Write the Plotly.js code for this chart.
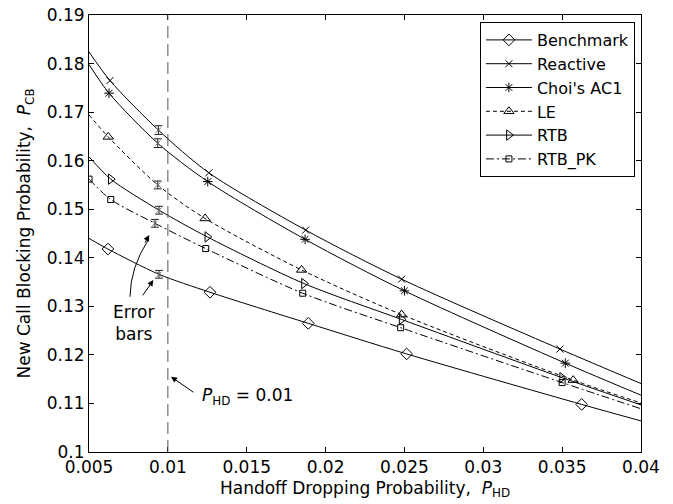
<!DOCTYPE html>
<html>
<head>
<meta charset="utf-8">
<script src="https://cdn.plot.ly/plotly-3.0.1.min.js"></script>
<style>html,body{margin:0;padding:0;background:#fff;}#chart{width:673px;height:504px;}</style>
</head>
<body>
<div id="chart"></div>
<script>
// ---------- data ----------
var seriesNames = ["Benchmark", "Reactive", "Choi's AC1", "LE", "RTB", "RTB_PK"];

// smooth curves (x = P_HD, y = P_CB)
var benchCurveX = [0.005, 0.0062, 0.00944, 0.01267, 0.0189, 0.02514, 0.03624, 0.04];
var benchCurveY = [0.1440, 0.1418, 0.1366, 0.1329, 0.1265, 0.1202, 0.1098, 0.1064];
var reactCurveX = [0.005, 0.00633, 0.0094, 0.0126, 0.01874, 0.02482, 0.03486, 0.04];
var reactCurveY = [0.1824, 0.1765, 0.1663, 0.1575, 0.1457, 0.1356, 0.1212, 0.1141];
var choiCurveX = [0.005, 0.00627, 0.00936, 0.01253, 0.0187, 0.025, 0.0352, 0.04];
var choiCurveY = [0.1798, 0.1739, 0.1636, 0.1557, 0.1438, 0.1332, 0.1183, 0.1117];
var leCurveX = [0.005, 0.00622, 0.00936, 0.01236, 0.01848, 0.02482, 0.0357, 0.04];
var leCurveY = [0.1694, 0.1649, 0.1550, 0.1481, 0.1375, 0.1283, 0.1148, 0.1101];
var rtbCurveX = [0.005, 0.00638, 0.00944, 0.0125, 0.01863, 0.02482, 0.035, 0.04];
var rtbCurveY = [0.1608, 0.1562, 0.1498, 0.1443, 0.1347, 0.1273, 0.1153, 0.1097];
var pkCurveX = [0.005, 0.00638, 0.00918, 0.0124, 0.01855, 0.02476, 0.035, 0.04];
var pkCurveY = [0.1562, 0.1520, 0.1471, 0.1419, 0.1327, 0.1256, 0.1143, 0.1089];

// marker positions
var benchMarkX = [0.0062, 0.01267, 0.0189, 0.02514, 0.03624];
var benchMarkY = [0.1418, 0.1329, 0.1265, 0.1202, 0.1098];
var reactMarkX = [0.00633, 0.0126, 0.01874, 0.02482, 0.03486];
var reactMarkY = [0.1765, 0.1575, 0.1457, 0.1356, 0.1212];
var choiMarkX = [0.00627, 0.01253, 0.0187, 0.025, 0.0352];
var choiMarkY = [0.1739, 0.1557, 0.1438, 0.1332, 0.1183];
var leMarkX = [0.00622, 0.01236, 0.01848, 0.02482, 0.0357];
var leMarkY = [0.1649, 0.1481, 0.1375, 0.1283, 0.1148];
var rtbMarkX = [0.00638, 0.0125, 0.01863, 0.02482, 0.035];
var rtbMarkY = [0.1562, 0.1443, 0.1347, 0.1273, 0.1153];
var pkMarkX = [0.005, 0.00638, 0.0124, 0.01855, 0.02476, 0.035];
var pkMarkY = [0.1562, 0.1520, 0.1419, 0.1327, 0.1256, 0.1143];

// error bars near P_HD = 0.01
var errX = [0.00944, 0.0094, 0.00936, 0.00936, 0.00944, 0.00918];
var errY = [0.1366, 0.1663, 0.1636, 0.1550, 0.1498, 0.1471];
var errSize = [0.0008, 0.0009, 0.0009, 0.0008, 0.0008, 0.0008];

// ticks
var xTickVals = [0.005, 0.01, 0.015, 0.02, 0.025, 0.03, 0.035, 0.04];
var xTickText = ["0.005", "0.01", "0.015", "0.02", "0.025", "0.03", "0.035", "0.04"];
var yTickVals = [0.1, 0.11, 0.12, 0.13, 0.14, 0.15, 0.16, 0.17, 0.18, 0.19];
var yTickText = ["0.1", "0.11", "0.12", "0.13", "0.14", "0.15", "0.16", "0.17", "0.18", "0.19"];

// ---------- styles ----------
var FONT = "DejaVu Sans, Liberation Sans, Arial, sans-serif";
var curves = [[benchCurveX, benchCurveY], [reactCurveX, reactCurveY], [choiCurveX, choiCurveY],
              [leCurveX, leCurveY], [rtbCurveX, rtbCurveY], [pkCurveX, pkCurveY]];
var marks = [[benchMarkX, benchMarkY], [reactMarkX, reactMarkY], [choiMarkX, choiMarkY],
             [leMarkX, leMarkY], [rtbMarkX, rtbMarkY], [pkMarkX, pkMarkY]];
var dashes = ["solid", "solid", "solid", "4px,3px", "solid", "8px,3px,2px,3px"];
var symbols = ["diamond-open", "x-thin-open", "asterisk-open", "triangle-up-open", "triangle-right-open", "square-open"];
var sizes = [9, 7, 8, 9, 9, 6];

var traces = [];
for (var i = 0; i < seriesNames.length; i++) {
  traces.push({
    x: curves[i][0], y: curves[i][1], type: "scatter", mode: "lines",
    line: {color: "black", width: 1, dash: dashes[i], shape: "spline", smoothing: 0.8},
    showlegend: false, hoverinfo: "skip", legendgroup: "g" + i
  });
  traces.push({
    x: marks[i][0], y: marks[i][1], type: "scatter", mode: "markers",
    marker: {symbol: symbols[i], size: sizes[i], color: "black", line: {width: 1, color: "black"}},
    showlegend: false, legendgroup: "g" + i
  });
}
// legend entries
for (var j = 0; j < seriesNames.length; j++) {
  traces.push({
    x: [null], y: [null], type: "scatter", mode: "lines+markers", name: seriesNames[j],
    line: {color: "black", width: 1, dash: dashes[j]},
    marker: {symbol: symbols[j], size: sizes[j], color: "black", line: {width: 1, color: "black"}},
    legendgroup: "g" + j
  });
}
// error bars
traces.push({
  x: errX, y: errY, type: "scatter", mode: "markers", showlegend: false,
  marker: {symbol: "x-thin-open", size: 5, color: "#666", line: {width: 1, color: "#666"}},
  error_y: {type: "data", array: errSize, visible: true, color: "#222", thickness: 1, width: 4}
});

var axisCommon = {
  showgrid: false, zeroline: false, showline: true, linecolor: "black", linewidth: 1,
  mirror: "ticks", ticks: "inside", ticklen: 5, tickcolor: "black",
  tickfont: {family: FONT, size: 17, color: "black"}
};

var layout = {
  width: 673, height: 504,
  margin: {l: 89, r: 32, t: 15, b: 52, pad: 0},
  paper_bgcolor: "white", plot_bgcolor: "white",
  font: {family: FONT, size: 17, color: "black"},
  xaxis: Object.assign({}, axisCommon, {
    range: [0.005, 0.04], tickvals: xTickVals, ticktext: xTickText,
    title: {text: "Handoff Dropping Probability,  <i>P</i><sub>HD</sub>", font: {family: FONT, size: 17}, standoff: 5}
  }),
  yaxis: Object.assign({}, axisCommon, {
    range: [0.1, 0.19], tickvals: yTickVals, ticktext: yTickText,
    title: {text: "New Call Blocking Probability,  <i>P</i><sub>CB</sub>", font: {family: FONT, size: 17}, standoff: 11}
  }),
  legend: {
    x: 0.989, xanchor: "right", y: 0.984, yanchor: "top",
    bgcolor: "white", bordercolor: "black", borderwidth: 1,
    font: {family: FONT, size: 16, color: "black"}, itemwidth: 46, tracegroupgap: 0
  },
  shapes: [
    {type: "line", xref: "x", yref: "y", x0: 0.01, x1: 0.01, y0: 0.1, y1: 0.19,
     line: {color: "#555", width: 1, dash: "12px,6px"}},
    {type: "path", xref: "x", yref: "y", path: "M 0.0076 0.13198 Q 0.00762 0.138 0.00876 0.1437",
     line: {color: "black", width: 1}}
  ],
  annotations: [
    {x: 0.00779, y: 0.1265, xref: "x", yref: "y", text: "Error<br>bars", showarrow: false,
     font: {family: FONT, size: 17, color: "black"}, align: "center"},
    {x: 0.00882, y: 0.1447, xref: "x", yref: "y", text: "", showarrow: true,
     ax: -5, ay: 9, arrowhead: 2, arrowsize: 1.2, arrowwidth: 1, arrowcolor: "black"},
    {x: 0.00908, y: 0.1354, xref: "x", yref: "y", text: "", showarrow: true,
     ax: -11.6, ay: 16.7, arrowhead: 2, arrowsize: 1.2, arrowwidth: 1, arrowcolor: "black"},
    {x: 0.0102, y: 0.1155, xref: "x", yref: "y", text: "", showarrow: true,
     ax: 24, ay: 16.6, arrowhead: 2, arrowsize: 1.2, arrowwidth: 1, arrowcolor: "black"},
    {x: 0.01505, y: 0.1115, xref: "x", yref: "y", text: "<i>P</i><sub>HD</sub> = 0.01", showarrow: false,
     font: {family: FONT, size: 17, color: "black"}}
  ]
};

Plotly.newPlot("chart", traces, layout, {staticPlot: true, displayModeBar: false});
</script>
</body>
</html>
